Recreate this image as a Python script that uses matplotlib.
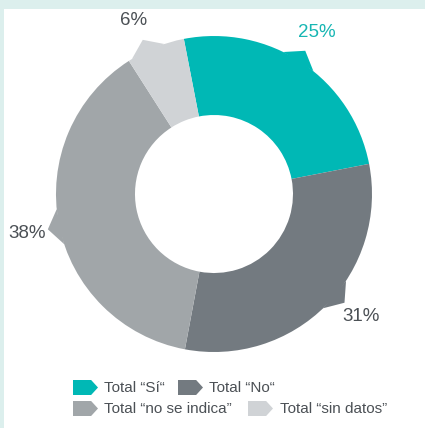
import numpy as np
import matplotlib.pyplot as plt
from matplotlib.patches import Polygon, Rectangle
from matplotlib.path import Path
from matplotlib.lines import Line2D

plt.rcParams['font.family'] = ['Liberation Sans', 'DejaVu Sans']

# data
legend_labels = ['Total “Sí“', 'Total “No“', 'Total “no se indica”', 'Total “sin datos”']
values = [25, 31, 38, 6]
pct_labels = ['25%', '31%', '38%', '6%']

# style
colors = ['#00b8b5', '#737a80', '#a1a6a9', '#d0d3d6']
label_colors = ['#17b6b3', '#4b5055', '#4b5055', '#4b5055']
label_shift = [1.5, 5, 1, 3]  # degrees, nudge of tab/label off the wedge middle
text_gray = '#4b5055'

fig = plt.figure(figsize=(4.25, 4.28), dpi=100)
fig.patch.set_facecolor('#dcefed')
# white panel inside the mint frame
fig.add_artist(Rectangle((4 / 425, 0), 1, 1 - 9 / 428, transform=fig.transFigure,
                         facecolor='white', edgecolor='none', zorder=0))

ax = fig.add_axes([0.0202, 0.0668, 0.9666, 0.9598])
ax.patch.set_alpha(0)
wedges, _ = ax.pie(values, colors=colors, startangle=101, counterclock=False,
                   radius=1, wedgeprops=dict(width=0.5, linewidth=0))

# little pointer tabs on the outer edge + percent labels
half = np.radians(6.5)
for w, pct, lc, sh in zip(wedges, pct_labels, label_colors, label_shift):
    mid = (w.theta1 + w.theta2) / 2 + sh
    a = np.radians(mid)
    pts = [(np.cos(a - half), np.sin(a - half)),
           (1.075 * np.cos(a), 1.075 * np.sin(a)),
           (np.cos(a + half), np.sin(a + half))]
    ax.add_patch(Polygon(pts, closed=True, facecolor=w.get_facecolor(),
                         edgecolor='none', linewidth=0))
    ax.text(1.21 * np.cos(a), 1.21 * np.sin(a), pct, ha='center', va='center',
            fontsize=13.5, color=lc)

ax.set_xlim(-1.3, 1.3)
ax.set_ylim(-1.3, 1.3)
ax.axis('off')

# arrow shaped legend markers
arrow = Path([(-1, -0.6), (0.45, -0.6), (1, 0), (0.45, 0.6), (-1, 0.6), (-1, -0.6)],
             [Path.MOVETO, Path.LINETO, Path.LINETO, Path.LINETO, Path.LINETO, Path.CLOSEPOLY])
handles = [Line2D([], [], marker=arrow, markersize=18, markerfacecolor=c,
                  markeredgewidth=0, linestyle='none') for c in colors]

leg_kw = dict(loc='center left', ncol=2, frameon=False, fontsize=11,
              handlelength=1.6, handletextpad=0.45, borderpad=0,
              borderaxespad=0, labelcolor=text_gray)
fig.legend(handles[:2], legend_labels[:2], bbox_to_anchor=(0.172, 0.0935),
           columnspacing=0.85, **leg_kw)
fig.legend(handles[2:], legend_labels[2:], bbox_to_anchor=(0.172, 0.0444),
           columnspacing=1.05, **leg_kw)

fig.savefig('out.png', dpi=100)
